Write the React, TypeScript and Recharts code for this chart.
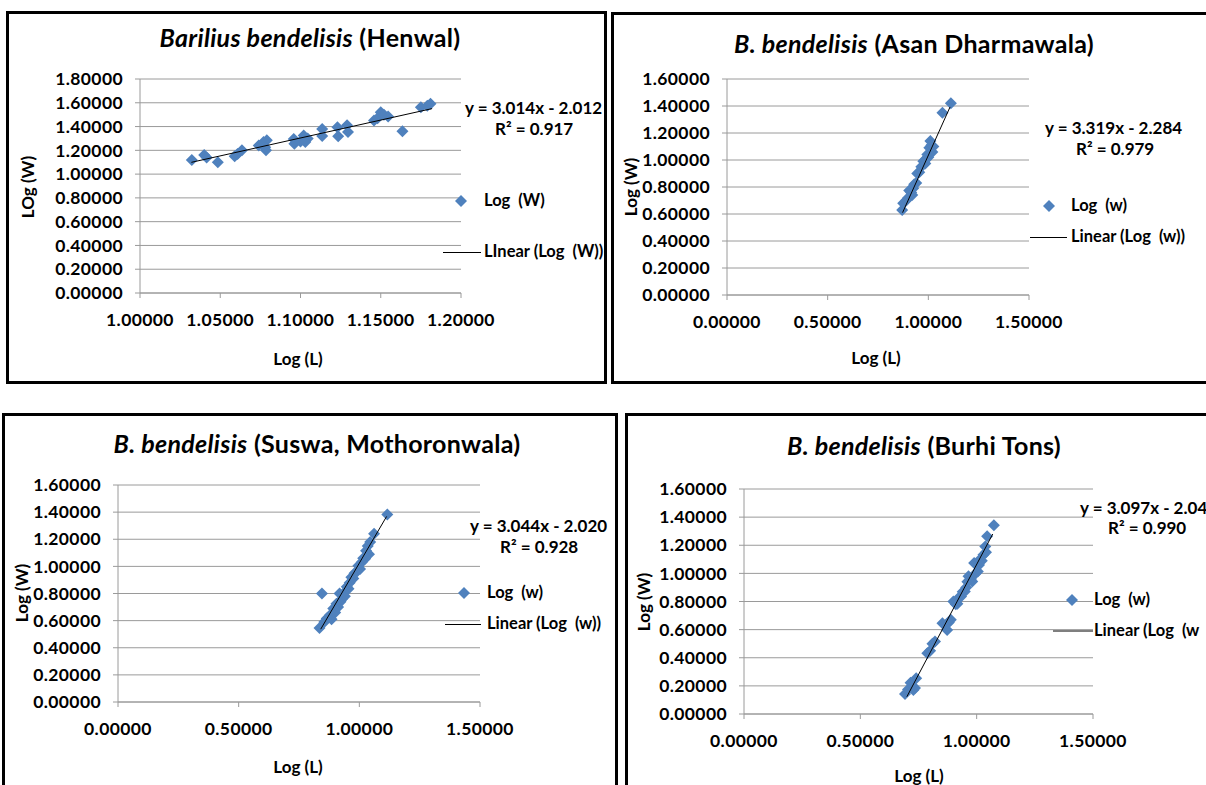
import React from "react";
import { ScatterChart, Scatter, XAxis, YAxis, CartesianGrid } from "recharts";

// Henwal
const henwalLogL = [1.0323, 1.04, 1.0415, 1.0485, 1.059, 1.0608, 1.0635, 1.074, 1.077, 1.079, 1.0785, 1.078, 1.0958, 1.0962, 1.1, 1.102, 1.1045, 1.103, 1.1135, 1.1135, 1.123, 1.1235, 1.129, 1.1296, 1.1458, 1.148, 1.15, 1.152, 1.1546, 1.1635, 1.175, 1.179, 1.181];
const henwalLogW = [1.118, 1.16, 1.14, 1.1, 1.15, 1.17, 1.2, 1.24, 1.27, 1.285, 1.2, 1.225, 1.296, 1.255, 1.275, 1.324, 1.3, 1.27, 1.38, 1.32, 1.394, 1.318, 1.41, 1.355, 1.45, 1.47, 1.52, 1.5, 1.485, 1.36, 1.563, 1.575, 1.592];
const henwalTrend = [{ x: 1.032, y: 1.099 }, { x: 1.182, y: 1.551 }];

// Asan Dharmawala
const asanLogL = [0.87, 0.875, 0.89, 0.9, 0.905, 0.915, 0.92, 0.925, 0.93, 0.94, 0.945, 0.955, 0.965, 0.975, 0.985, 0.99, 0.995, 1.0, 1.005, 1.01, 1.015, 1.02, 1.025, 1.07, 1.112];
const asanLogW = [0.63, 0.68, 0.7, 0.72, 0.775, 0.76, 0.74, 0.79, 0.82, 0.83, 0.9, 0.91, 0.95, 0.99, 0.975, 1.01, 1.04, 1.02, 1.09, 1.14, 1.11, 1.06, 1.1, 1.35, 1.42];
const asanTrend = [{ x: 0.872, y: 0.61 }, { x: 1.108, y: 1.393 }];

// Suswa, Mothoronwala
const suswaLogL = [0.835, 0.845, 0.855, 0.865, 0.878, 0.885, 0.892, 0.9, 0.905, 0.912, 0.918, 0.922, 0.928, 0.934, 0.94, 0.948, 0.955, 0.96, 0.967, 0.975, 0.98, 0.989, 0.996, 1.003, 1.01, 1.016, 1.024, 1.028, 1.035, 1.04, 1.045, 1.061, 1.116];
const suswaLogW = [0.545, 0.8, 0.59, 0.615, 0.64, 0.61, 0.69, 0.66, 0.725, 0.7, 0.8, 0.74, 0.76, 0.8, 0.78, 0.85, 0.835, 0.88, 0.92, 0.91, 0.95, 0.96, 1.005, 0.98, 1.03, 1.06, 1.056, 1.115, 1.15, 1.09, 1.18, 1.24, 1.383];
const suswaTrend = [{ x: 0.84, y: 0.537 }, { x: 1.113, y: 1.368 }];

// Burhi Tons
const burhiLogL = [0.692, 0.705, 0.716, 0.728, 0.735, 0.74, 0.788, 0.8, 0.81, 0.821, 0.853, 0.873, 0.88, 0.889, 0.9, 0.91, 0.917, 0.925, 0.933, 0.94, 0.949, 0.955, 0.96, 0.965, 0.975, 0.981, 0.989, 0.995, 1.005, 1.01, 1.013, 1.022, 1.029, 1.037, 1.04, 1.045, 1.074];
const burhiLogW = [0.142, 0.175, 0.223, 0.17, 0.185, 0.254, 0.432, 0.45, 0.5, 0.515, 0.646, 0.598, 0.65, 0.67, 0.8, 0.78, 0.784, 0.83, 0.836, 0.87, 0.872, 0.9, 0.94, 0.979, 0.96, 0.943, 1.074, 1.0, 1.014, 1.06, 1.097, 1.09, 1.133, 1.192, 1.15, 1.264, 1.342];
const burhiTrend = [{ x: 0.7, y: 0.123 }, { x: 1.069, y: 1.28 }];

const henwalXTicks = [1.0, 1.05, 1.1, 1.15, 1.2];
const henwalYTicks = [0, 0.2, 0.4, 0.6, 0.8, 1.0, 1.2, 1.4, 1.6, 1.8];
const xTicks = [0, 0.5, 1.0, 1.5];
const yTicks = [0, 0.2, 0.4, 0.6, 0.8, 1.0, 1.2, 1.4, 1.6];

const zip = (xs: number[], ys: number[]) => xs.map((x, i) => ({ x, y: ys[i] }));

const FONT = "Lato, 'Open Sans', sans-serif";
const BLUE = "#4F81BD";
const GRID = "#9a9a9a";

const Diamond = (props: any) => {
  const { cx, cy } = props;
  if (cx == null || cy == null) return <g />;
  const r = 6;
  return <path d={`M${cx},${cy - r}L${cx + r},${cy}L${cx},${cy + r}L${cx - r},${cy}Z`} fill={BLUE} />;
};

const NoDot = () => <g />;

function Txt({ x, y, children, size = 16.5, center = false, style = {} }: any) {
  return (
    <div
      style={{
        position: "absolute",
        left: x,
        top: y - size * 0.6,
        lineHeight: `${size * 1.2}px`,
        fontSize: size,
        fontWeight: 700,
        fontFamily: FONT,
        whiteSpace: "pre",
        color: "#000",
        transform: center ? "translateX(-50%)" : undefined,
        ...style,
      }}
    >
      {children}
    </div>
  );
}

function Panel({ cfg }: any) {
  const { box, plot, xDomain, xT, yDomain, yT, points, trend, title, italic, yTitle, xTitleX, xTitleY, yTitleX, yTitleY, eq, r2, eqX, eqY, r2X, r2Y, leg, legLine, legText, lineText, lineColor, lineW } = cfg;
  const yW = 100;
  const top = 20;
  const right = 70;
  const xH = 50;
  const w = plot.x1 - plot.x0 + yW + right;
  const h = plot.yb - plot.yt + top + xH;
  const tickStyle = { fill: "#000", fontSize: 17.5, fontWeight: 700, fontFamily: FONT, letterSpacing: 0.4 };
  return (
    <>
      <div
        style={{
          position: "absolute",
          left: box.l,
          top: box.t,
          width: box.r - box.l,
          height: box.b - box.t,
          border: "3px solid #000",
          boxSizing: "border-box",
        }}
      />
      <div style={{ position: "absolute", left: plot.x0 - yW, top: plot.yt - top }}>
        <ScatterChart width={w} height={h} margin={{ top, right, bottom: 0, left: 0 }}>
          <CartesianGrid horizontal vertical={false} stroke={GRID} />
          <XAxis
            type="number"
            dataKey="x"
            domain={xDomain}
            ticks={xT}
            interval={0}
            allowDataOverflow
            height={xH}
            tickFormatter={(v: number) => v.toFixed(5)}
            tick={tickStyle}
            tickSize={5}
            tickMargin={16}
            axisLine={{ stroke: GRID }}
            tickLine={{ stroke: GRID }}
          />
          <YAxis
            type="number"
            dataKey="y"
            domain={yDomain}
            ticks={yT}
            interval={0}
            allowDataOverflow
            width={yW}
            tickFormatter={(v: number) => v.toFixed(5)}
            tick={tickStyle}
            tickSize={5}
            tickMargin={12}
            axisLine={{ stroke: GRID }}
            tickLine={{ stroke: GRID }}
          />
          <Scatter data={points} shape={Diamond} isAnimationActive={false} />
          <Scatter
            data={trend}
            shape={NoDot}
            line={{ stroke: "#000", strokeWidth: 1 }}
            isAnimationActive={false}
          />
        </ScatterChart>
      </div>
      <Txt x={title.x} y={title.y} size={25} center style={{ letterSpacing: 0.3 }}>
        <i>{italic}</i> {title.rest}
      </Txt>
      <div
        style={{
          position: "absolute",
          left: yTitleX,
          top: yTitleY,
          transform: "translate(-50%, -50%) rotate(-90deg)",
          fontSize: 17,
          fontWeight: 700,
          fontFamily: FONT,
          whiteSpace: "pre",
        }}
      >
        {yTitle}
      </div>
      <Txt x={xTitleX} y={xTitleY} size={17} center>
        Log (L)
      </Txt>
      <Txt x={eqX} y={eqY} size={17}>
        {eq}
      </Txt>
      <Txt x={r2X} y={r2Y} size={17}>
        {r2}
      </Txt>
      <svg style={{ position: "absolute", left: leg.x - 7, top: leg.y - 7 }} width={14} height={14}>
        <path d="M7,1L13,7L7,13L1,7Z" fill={BLUE} />
      </svg>
      <Txt x={leg.tx} y={leg.y}>
        {legText}
      </Txt>
      <div
        style={{
          position: "absolute",
          left: legLine.x0,
          top: legLine.y - lineW / 2,
          width: legLine.x1 - legLine.x0,
          height: lineW,
          background: lineColor,
        }}
      />
      <Txt x={leg.tx} y={legLine.y}>
        {lineText}
      </Txt>
    </>
  );
}

const panels = [
  {
    box: { l: 6, t: 11, r: 607, b: 384 },
    plot: { x0: 140, x1: 461, yt: 79, yb: 293 },
    xDomain: [1.0, 1.2],
    xT: henwalXTicks,
    yDomain: [0, 1.8],
    yT: henwalYTicks,
    points: zip(henwalLogL, henwalLogW),
    trend: henwalTrend,
    title: { x: 310, y: 37, rest: "(Henwal)" },
    italic: "Barilius bendelisis",
    yTitle: "LOg (W)",
    yTitleX: 27,
    yTitleY: 187,
    xTitleX: 298,
    xTitleY: 359,
    eq: "y = 3.014x - 2.012",
    r2: "R² = 0.917",
    eqX: 465,
    eqY: 108,
    r2X: 495,
    r2Y: 129,
    leg: { x: 461, y: 201, tx: 484 },
    legLine: { x0: 443, x1: 481, y: 252 },
    legText: "Log  (W)",
    lineText: "LInear (Log  (W))",
    lineColor: "#000",
    lineW: 1,
  },
  {
    box: { l: 611, t: 12, r: 1220, b: 384 },
    plot: { x0: 727, x1: 1029, yt: 79, yb: 295 },
    xDomain: [0, 1.5],
    xT: xTicks,
    yDomain: [0, 1.6],
    yT: yTicks,
    points: zip(asanLogL, asanLogW),
    trend: asanTrend,
    title: { x: 914, y: 43, rest: "(Asan Dharmawala)" },
    italic: "B. bendelisis",
    yTitle: "Log (W)",
    yTitleX: 630,
    yTitleY: 187,
    xTitleX: 876,
    xTitleY: 358,
    eq: "y = 3.319x - 2.284",
    r2: "R² = 0.979",
    eqX: 1045,
    eqY: 128,
    r2X: 1076,
    r2Y: 149,
    leg: { x: 1049, y: 206, tx: 1071 },
    legLine: { x0: 1030, x1: 1067, y: 237 },
    legText: "Log  (w)",
    lineText: "Linear (Log  (w))",
    lineColor: "#000",
    lineW: 1,
  },
  {
    box: { l: 2, t: 413, r: 618, b: 800 },
    plot: { x0: 118, x1: 480, yt: 485, yb: 702 },
    xDomain: [0, 1.5],
    xT: xTicks,
    yDomain: [0, 1.6],
    yT: yTicks,
    points: zip(suswaLogL, suswaLogW),
    trend: suswaTrend,
    title: { x: 317, y: 443, rest: "(Suswa, Mothoronwala)" },
    italic: "B. bendelisis",
    yTitle: "Log (W)",
    yTitleX: 21,
    yTitleY: 593,
    xTitleX: 298,
    xTitleY: 767,
    eq: "y = 3.044x - 2.020",
    r2: "R² = 0.928",
    eqX: 470,
    eqY: 526,
    r2X: 500,
    r2Y: 547,
    leg: { x: 464, y: 593, tx: 487 },
    legLine: { x0: 445, x1: 481, y: 624 },
    legText: "Log  (w)",
    lineText: "Linear (Log  (w))",
    lineColor: "#000",
    lineW: 1,
  },
  {
    box: { l: 625, t: 413, r: 1220, b: 800 },
    plot: { x0: 744, x1: 1093, yt: 489, yb: 714 },
    xDomain: [0, 1.5],
    xT: xTicks,
    yDomain: [0, 1.6],
    yT: yTicks,
    points: zip(burhiLogL, burhiLogW),
    trend: burhiTrend,
    title: { x: 924, y: 445, rest: "(Burhi Tons)" },
    italic: "B. bendelisis",
    yTitle: "Log (W)",
    yTitleX: 643,
    yTitleY: 602,
    xTitleX: 919,
    xTitleY: 776,
    eq: "y = 3.097x - 2.045",
    r2: "R² = 0.990",
    eqX: 1080,
    eqY: 508,
    r2X: 1108,
    r2Y: 528,
    leg: { x: 1072, y: 600, tx: 1094 },
    legLine: { x0: 1053, x1: 1093, y: 631 },
    legText: "Log  (w)",
    lineText: "Linear (Log  (w",
    lineColor: "#7f7f7f",
    lineW: 2,
  },
];

export default function App() {
  return (
    <div
      style={{
        position: "absolute",
        left: 0,
        top: 0,
        width: 1206,
        height: 785,
        background: "#fff",
        overflow: "hidden",
      }}
    >
      {panels.map((p, i) => (
        <Panel key={i} cfg={p} />
      ))}
    </div>
  );
}
